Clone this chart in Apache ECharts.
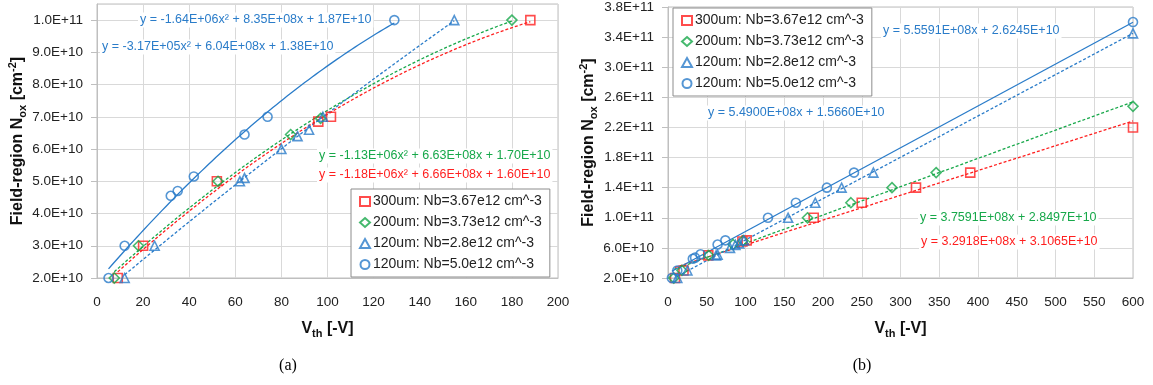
<!DOCTYPE html>
<html>
<head>
<meta charset="utf-8">
<title>Field-region Nox vs Vth</title>
<script src="https://cdn.jsdelivr.net/npm/echarts@6/dist/echarts.min.js"></script>
<style>
  html, body { margin: 0; padding: 0; background: #fff; }
  #chart { width: 1153px; height: 385px; }
</style>
</head>
<body>
<div id="chart"></div>
<script>
// ---- Measured points, panel (a): Vth up to the 1e11 point ----
const sq300X = [9, 20, 52, 96, 101.5, 188];
const sq300Y = [2.0e10, 3.0e10, 5.0e10, 6.85e10, 7.0e10, 1.0e11];
const di200X = [7.5, 18, 52.5, 84, 97, 180];
const di200Y = [2.0e10, 3.0e10, 5.0e10, 6.45e10, 6.95e10, 1.0e11];
const tr120X = [12, 25, 62, 64, 80, 87, 92, 98, 155];
const tr120Y = [2.0e10, 3.0e10, 5.0e10, 5.1e10, 6.0e10, 6.4e10, 6.6e10, 7.0e10, 1.0e11];
const ci120X = [5, 12, 32, 35, 42, 64, 74, 129];
const ci120Y = [2.0e10, 3.0e10, 4.55e10, 4.7e10, 5.15e10, 6.45e10, 7.0e10, 1.0e11];

// ---- Additional higher-voltage points, panel (b) ----
const sq300XExtra = [250, 320, 390, 600];
const sq300YExtra = [1.2e11, 1.4e11, 1.6e11, 2.2e11];
const di200XExtra = [236, 289, 346, 600];
const di200YExtra = [1.2e11, 1.4e11, 1.6e11, 2.48e11];
const tr120XExtra = [190, 224, 265, 600];
const tr120YExtra = [1.2e11, 1.4e11, 1.6e11, 3.45e11];
const ci120XExtra = [165, 205, 240, 600];
const ci120YExtra = [1.2e11, 1.4e11, 1.6e11, 3.6e11];

// ---- Fit coefficients ----
// panel (a): second-order polynomial [a2, a1, a0]
const fitQuadSq300 = [-1.18e6, 6.66e8, 1.60e10];
const fitQuadDi200 = [-1.13e6, 6.63e8, 1.70e10];
const fitQuadTr120 = [-3.17e5, 6.04e8, 1.38e10];
const fitQuadCi120 = [-1.64e6, 8.35e8, 1.87e10];
// panel (b): linear [slope, intercept]
const fitLinSq300 = [3.2918e8, 3.1065e10];
const fitLinDi200 = [3.7591e8, 2.8497e10];
const fitLinTr120 = [5.4900e8, 1.5660e10];
const fitLinCi120 = [5.5591e8, 2.6245e10];

// ---- Labels ----
const seriesNames = [
  '300um: Nb=3.67e12 cm^-3',
  '200um: Nb=3.73e12 cm^-3',
  '120um: Nb=2.8e12 cm^-3',
  '120um: Nb=5.0e12 cm^-3'
];
const eqTextA = [
  'y = -1.18E+06x\u00B2 + 6.66E+08x + 1.60E+10',
  'y = -1.13E+06x\u00B2 + 6.63E+08x + 1.70E+10',
  'y = -3.17E+05x\u00B2 + 6.04E+08x + 1.38E+10',
  'y = -1.64E+06x\u00B2 + 8.35E+08x + 1.87E+10'
];
const eqTextB = [
  'y = 3.2918E+08x + 3.1065E+10',
  'y = 3.7591E+08x + 2.8497E+10',
  'y = 5.4900E+08x + 1.5660E+10',
  'y = 5.5591E+08x + 2.6245E+10'
];
const panelCaptions = ['(a)', '(b)'];

// ---- Styling ----
const RED = '#ff1f1f', GREEN = '#17a84a', BLUE = '#2a7cc9';
const colors = [RED, GREEN, BLUE, BLUE];
const symbols = ['rect', 'diamond', 'triangle', 'circle'];
const symbolSizes = [9, 10, 9, 9];
const lineTypes = [[3, 2], [3, 2], [3, 2], 'solid'];
const FONT = 'Liberation Sans, Arial, sans-serif';

const zip = (xs, ys) => xs.map((x, i) => [x, ys[i]]);

function quadCurve(c, x0, x1) {
  const pts = [];
  const n = 80;
  for (let i = 0; i <= n; i++) {
    const x = x0 + (x1 - x0) * i / n;
    pts.push([x, c[0] * x * x + c[1] * x + c[2]]);
  }
  return pts;
}
function linCurve(c, x0, x1) {
  return [[x0, c[0] * x0 + c[1]], [x1, c[0] * x1 + c[1]]];
}

function sciLabel(v) {
  if (v <= 0) return '0';
  const e = Math.floor(Math.log10(v) + 1e-9);
  const m = Math.round(v / Math.pow(10, e) * 10) / 10;
  return m.toFixed(1) + 'E+' + (e < 10 ? '0' + e : e);
}

const pointsA = [zip(sq300X, sq300Y), zip(di200X, di200Y), zip(tr120X, tr120Y), zip(ci120X, ci120Y)];
const pointsB = [
  zip(sq300X.concat(sq300XExtra), sq300Y.concat(sq300YExtra)),
  zip(di200X.concat(di200XExtra), di200Y.concat(di200YExtra)),
  zip(tr120X.concat(tr120XExtra), tr120Y.concat(tr120YExtra)),
  zip(ci120X.concat(ci120XExtra), ci120Y.concat(ci120YExtra))
];
const fitsA = [fitQuadSq300, fitQuadDi200, fitQuadTr120, fitQuadCi120];
const fitsB = [fitLinSq300, fitLinDi200, fitLinTr120, fitLinCi120];

const series = [];
// trend lines first so markers sit on top
for (let i = 0; i < 4; i++) {
  const xsA = pointsA[i].map(p => p[0]);
  const xsB = pointsB[i].map(p => p[0]);
  series.push({
    type: 'line', name: 'fitA' + i, xAxisIndex: 0, yAxisIndex: 0,
    data: quadCurve(fitsA[i], Math.min(...xsA), Math.max(...xsA)),
    showSymbol: false, silent: true, z: 2,
    lineStyle: { color: colors[i], width: 1.3, type: lineTypes[i] }
  });
  series.push({
    type: 'line', name: 'fitB' + i, xAxisIndex: 1, yAxisIndex: 1,
    data: linCurve(fitsB[i], Math.min(...xsB), Math.max(...xsB)),
    showSymbol: false, silent: true, z: 2,
    lineStyle: { color: colors[i], width: 1.3, type: lineTypes[i] }
  });
}
for (let i = 0; i < 4; i++) {
  const common = {
    type: 'scatter', name: seriesNames[i], symbol: symbols[i], symbolSize: symbolSizes[i], z: 3,
    itemStyle: { color: 'rgba(255,255,255,0)', borderColor: colors[i], borderWidth: 1.6 }
  };
  series.push(Object.assign({}, common, { xAxisIndex: 0, yAxisIndex: 0, data: pointsA[i] }));
  series.push(Object.assign({}, common, { xAxisIndex: 1, yAxisIndex: 1, data: pointsB[i] }));
}

const richName = {
  b: { fontSize: 16, fontWeight: 'bold', color: '#111', fontFamily: FONT, lineHeight: 21 },
  sub: { fontSize: 11, fontWeight: 'bold', color: '#111', fontFamily: FONT, verticalAlign: 'bottom' },
  sup: { fontSize: 11, fontWeight: 'bold', color: '#111', fontFamily: FONT, verticalAlign: 'top' }
};
const yName = '{b|Field-region N}{sub|ox}{b| [cm}{sup|-2}{b|]}';
const xName = '{b|V}{sub|th}{b| [-V]}';

function xAxisCfg(grid, max, interval) {
  return {
    type: 'value', gridIndex: grid, min: 0, max: max, interval: interval,
    name: xName, nameLocation: 'middle', nameGap: 40,
    nameTextStyle: { rich: richName },
    axisLine: { show: true, lineStyle: { color: '#bfbfbf' } },
    axisTick: { show: false },
    axisLabel: { color: '#222', fontSize: 13.5, fontFamily: FONT, margin: 17 },
    splitLine: { show: true, lineStyle: { color: '#d9d9d9', width: 1 } }
  };
}
function yAxisCfg(grid, min, max, interval, gap) {
  return {
    type: 'value', gridIndex: grid, min: min, max: max, interval: interval,
    name: yName, nameLocation: 'middle', nameGap: gap,
    nameTextStyle: { rich: richName },
    axisLine: { show: true, lineStyle: { color: '#bfbfbf' } },
    axisTick: { show: true, length: 6, lineStyle: { color: '#bfbfbf' } },
    axisLabel: { color: '#222', fontSize: 13.5, fontFamily: FONT, margin: 14, formatter: sciLabel, showMaxLabel: max === 3.8e11 },
    splitLine: { show: true, lineStyle: { color: '#d9d9d9', width: 1 } }
  };
}

function legendCfg(left, top) {
  return {
    data: seriesNames, orient: 'vertical', left: left, top: top,
    backgroundColor: '#fff', borderColor: '#8c8c8c', borderWidth: 1, borderRadius: 0,
    padding: [4, 8, 4, 8], itemGap: 4, itemWidth: 10, itemHeight: 9,
    textStyle: { color: '#222', fontSize: 14, fontFamily: FONT, lineHeight: 17, padding: [0, 0, 0, -2] },
    selectedMode: false
  };
}

function eq(text, x, y, color) {
  return {
    type: 'text', x: x, y: y, z: 10,
    style: {
      text: text, fill: color, font: '12.5px ' + FONT,
      verticalAlign: 'middle', backgroundColor: '#fff', padding: [1, 2, 1, 2]
    }
  };
}

const option = {
  animation: false,
  backgroundColor: '#fff',
  grid: [
    { left: 97, top: 4, width: 461, height: 274, show: true, borderColor: '#bfbfbf', borderWidth: 1 },
    { left: 668, top: 4, width: 465, height: 274, show: true, borderColor: '#bfbfbf', borderWidth: 1 }
  ],
  xAxis: [xAxisCfg(0, 200, 20), xAxisCfg(1, 600, 50)],
  yAxis: [yAxisCfg(0, 2e10, 1.05e11, 1e10, 67), yAxisCfg(1, 2e10, 3.8e11, 4e10, 55)],
  legend: [legendCfg(351, 189), legendCfg(673, 8)],
  series: series,
  graphic: [
    eq(eqTextA[3], 138, 20, BLUE),
    eq(eqTextA[2], 100, 47, BLUE),
    eq(eqTextA[1], 317, 156, GREEN),
    eq(eqTextA[0], 317, 175, RED),
    eq(eqTextB[3], 881, 31, BLUE),
    eq(eqTextB[2], 706, 113, BLUE),
    eq(eqTextB[1], 918, 218, GREEN),
    eq(eqTextB[0], 919, 242, RED),
    { type: 'text', x: 288, y: 366, style: { text: panelCaptions[0], fill: '#000', font: '16px Liberation Serif, serif', align: 'center', verticalAlign: 'middle' } },
    { type: 'text', x: 862, y: 366, style: { text: panelCaptions[1], fill: '#000', font: '16px Liberation Serif, serif', align: 'center', verticalAlign: 'middle' } }
  ]
};

const chart = echarts.init(document.getElementById('chart'), null, { renderer: 'canvas' });
chart.setOption(option);
</script>
</body>
</html>
